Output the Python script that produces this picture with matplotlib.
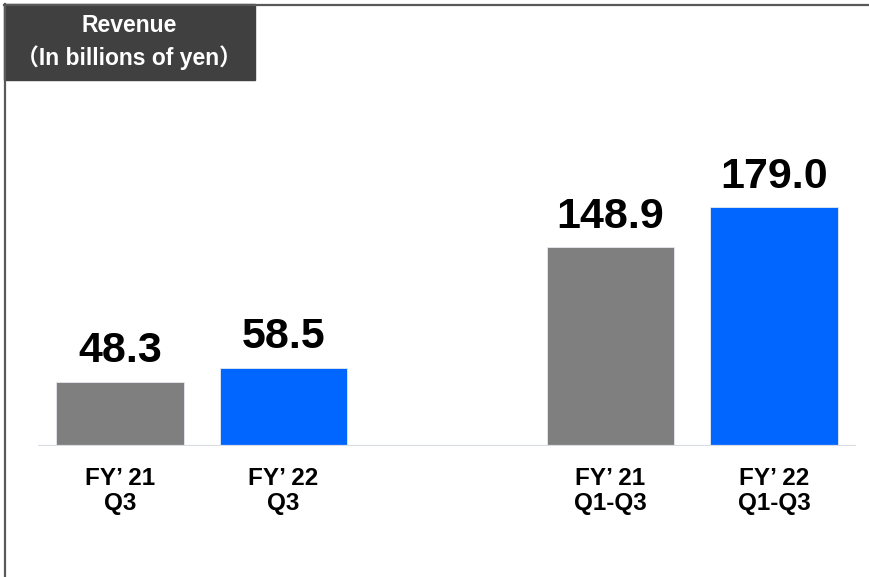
import matplotlib.pyplot as plt
from matplotlib.lines import Line2D
from matplotlib.patches import Rectangle

# Data
labels = ["FY’ 21\nQ3", "FY’ 22\nQ3", "FY’ 21\nQ1-Q3", "FY’ 22\nQ1-Q3"]
positions = [0, 1, 3, 4]
revenue = [48.3, 58.5, 148.9, 179.0]
colors = ["#7f7f7f", "#0066ff", "#7f7f7f", "#0066ff"]

W, H = 869, 577
fig = plt.figure(figsize=(W / 100, H / 100), dpi=100)

# axes placed so baseline sits at y=446px
ax = fig.add_axes([38.25 / W, (H - 446) / H, 817.5 / W, 346 / H])
ax.bar(positions, revenue, width=0.78, color=colors, edgecolor="#e6e9ee", linewidth=0.6)
ax.axhline(0, color="#d9dde3", lw=1.6, zorder=3)
ax.set_xlim(-0.5, 4.5)
ax.set_ylim(0, 259.2)

for x, v in zip(positions, revenue):
    ax.annotate(f"{v:.1f}", (x, v), xytext=(0, 14), textcoords="offset points",
                ha="center", va="baseline", fontsize=31, fontweight="bold",
                family="Liberation Sans")

ax.set_xticks(positions)
ax.set_xticklabels(labels, fontsize=17.5, fontweight="bold", family="Liberation Sans",
                   linespacing=1.12)
ax.tick_params(axis="x", length=0, pad=15)
ax.set_yticks([])
for s in ax.spines.values():
    s.set_visible(False)

# frame lines (top and left)
fig.add_artist(Line2D([4 / W, 1], [1 - 4.5 / H, 1 - 4.5 / H], color="#595959", lw=1.6))
fig.add_artist(Line2D([4.5 / W, 4.5 / W], [0, 1 - 4 / H], color="#595959", lw=1.6))

# title box
fig.add_artist(Rectangle((4 / W, 1 - 80 / H), 251 / W, 76 / H, color="#404040"))
fig.text(129.5 / W, 1 - 25 / H, "Revenue", color="white", fontsize=16.5, fontweight="bold",
         ha="center", va="center", family=["Liberation Sans", "Noto Sans CJK JP"])
fig.text(129.5 / W, 1 - 58 / H, "（In billions of yen）", color="white", fontsize=16.5,
         fontweight="bold", ha="center", va="center",
         family=["Liberation Sans", "Noto Sans CJK JP"])

fig.savefig("out.png", dpi=100)
